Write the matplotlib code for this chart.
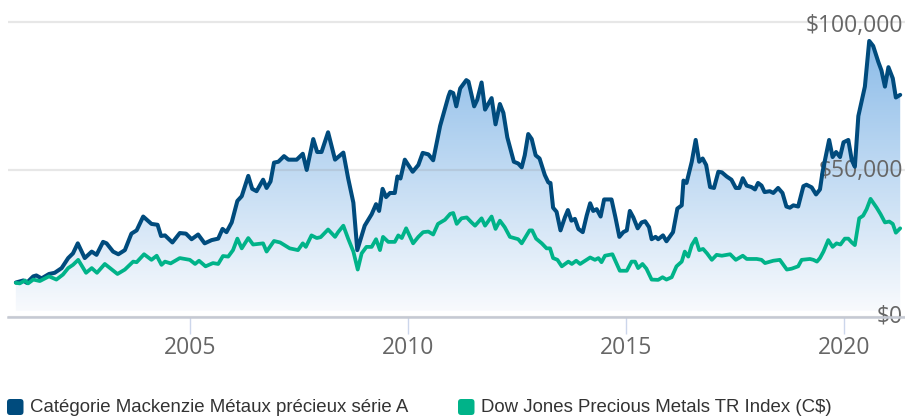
import numpy as np
import matplotlib
matplotlib.use("Agg")
import matplotlib.pyplot as plt
from matplotlib.colors import LinearSegmentedColormap
from matplotlib.patches import FancyBboxPatch
from matplotlib.transforms import offset_copy

# fund (Catégorie Mackenzie Métaux précieux série A), growth of $10k
fund_years = [2001.00, 2001.17, 2001.25, 2001.40, 2001.47, 2001.59, 2001.76, 2001.89, 2002.05, 2002.20,
              2002.31, 2002.42, 2002.58, 2002.74, 2002.85, 2003.00, 2003.08, 2003.23, 2003.35, 2003.50,
              2003.65, 2003.77, 2003.92, 2004.11, 2004.25, 2004.33, 2004.42, 2004.59, 2004.76, 2004.90,
              2005.03, 2005.18, 2005.33, 2005.49, 2005.64, 2005.74, 2005.83, 2005.95, 2006.08, 2006.18,
              2006.33, 2006.42, 2006.52, 2006.67, 2006.75, 2006.84, 2006.92, 2007.02, 2007.15, 2007.25,
              2007.44, 2007.58, 2007.67, 2007.82, 2007.91, 2008.01, 2008.16, 2008.32, 2008.51, 2008.62,
              2008.74, 2008.83, 2009.00, 2009.16, 2009.26, 2009.33, 2009.41, 2009.49, 2009.58, 2009.69,
              2009.75, 2009.82, 2009.92, 2010.10, 2010.23, 2010.33, 2010.46, 2010.57, 2010.73, 2010.92,
              2010.96, 2011.03, 2011.10, 2011.19, 2011.33, 2011.38, 2011.51, 2011.58, 2011.68, 2011.76,
              2011.91, 2012.00, 2012.10, 2012.18, 2012.27, 2012.42, 2012.52, 2012.60, 2012.67, 2012.75,
              2012.83, 2012.92, 2013.01, 2013.13, 2013.21, 2013.26, 2013.32, 2013.40, 2013.49, 2013.59,
              2013.66, 2013.74, 2013.82, 2013.90, 2014.00, 2014.09, 2014.17, 2014.24, 2014.32, 2014.41,
              2014.49, 2014.66, 2014.75, 2014.84, 2014.93, 2015.01, 2015.08, 2015.16, 2015.26, 2015.35,
              2015.43, 2015.52, 2015.58, 2015.67, 2015.73, 2015.84, 2015.92, 2016.07, 2016.17, 2016.27,
              2016.31, 2016.38, 2016.50, 2016.59, 2016.67, 2016.75, 2016.83, 2016.92, 2017.01, 2017.11,
              2017.19, 2017.30, 2017.41, 2017.51, 2017.59, 2017.67, 2017.76, 2017.87, 2017.95, 2018.02,
              2018.10, 2018.17, 2018.29, 2018.37, 2018.48, 2018.58, 2018.67, 2018.75, 2018.83, 2018.94,
              2019.06, 2019.13, 2019.25, 2019.35, 2019.44, 2019.50, 2019.65, 2019.73, 2019.81, 2019.90,
              2019.98, 2020.09, 2020.17, 2020.24, 2020.32, 2020.47, 2020.57, 2020.66, 2020.78, 2020.85,
              2020.93, 2021.01, 2021.11, 2021.18, 2021.28]
fund_values = [11700, 12400, 11600, 13800, 14100, 13100, 14600, 15000, 16600, 20000,
               21600, 25000, 20000, 22200, 21100, 25500, 25000, 22200, 21300, 22700,
               28300, 29400, 34100, 31600, 31300, 27500, 27700, 25300, 28500, 28300,
               26400, 28000, 25000, 26100, 26600, 29900, 28800, 32100, 39400, 41000,
               47900, 43500, 42700, 46600, 43800, 46000, 52400, 52700, 54600, 53400,
               53400, 55400, 49900, 60400, 56000, 56000, 62700, 53400, 55800, 47100,
               38800, 22700, 31000, 34900, 38300, 36000, 43500, 40700, 42100, 42100,
               47700, 47000, 53400, 49300, 51600, 55700, 55200, 53200, 64900, 74900,
               76500, 76000, 71500, 77600, 80400, 79900, 71500, 73700, 79600, 70400,
               74300, 65400, 72300, 69300, 61000, 52700, 52100, 50800, 54900, 62100,
               60400, 54900, 53800, 48200, 45700, 45500, 37100, 35700, 29400, 33800,
               36300, 32700, 33300, 29900, 28800, 34400, 38600, 36000, 36600, 34100,
               39900, 39900, 33800, 27200, 28800, 29400, 36000, 33800, 30100, 32100,
               32500, 30500, 26400, 27200, 26400, 27700, 25700, 28800, 36800, 37900,
               46300, 45500, 52700, 60100, 52700, 53800, 51600, 44100, 43800, 49300,
               49100, 47700, 46600, 43800, 43800, 47100, 44600, 44100, 43300, 45500,
               44600, 42400, 42700, 42100, 43800, 42100, 37500, 37100, 37900, 37500,
               44400, 44900, 44000, 41600, 43300, 49300, 60100, 54300, 56000, 54300,
               59300, 60100, 53200, 51000, 68200, 78200, 93700, 92000, 86500, 83700,
               78200, 84800, 81000, 74500, 75400]

# benchmark (Dow Jones Precious Metals TR Index, C$)
index_years = [2001.00, 2001.09, 2001.21, 2001.28, 2001.40, 2001.55, 2001.76, 2001.93, 2002.08, 2002.20,
               2002.31, 2002.43, 2002.61, 2002.74, 2002.86, 2003.04, 2003.16, 2003.33, 2003.50, 2003.69,
               2003.77, 2003.94, 2004.11, 2004.23, 2004.34, 2004.42, 2004.55, 2004.76, 2004.99, 2005.11,
               2005.20, 2005.35, 2005.52, 2005.64, 2005.75, 2005.87, 2005.98, 2006.08, 2006.18, 2006.33,
               2006.44, 2006.67, 2006.75, 2006.92, 2007.06, 2007.28, 2007.47, 2007.58, 2007.65, 2007.78,
               2007.90, 2007.99, 2008.16, 2008.32, 2008.39, 2008.51, 2008.62, 2008.74, 2008.84, 2008.93,
               2009.04, 2009.16, 2009.26, 2009.35, 2009.42, 2009.54, 2009.69, 2009.77, 2009.85, 2009.95,
               2010.11, 2010.23, 2010.34, 2010.46, 2010.57, 2010.68, 2010.84, 2010.96, 2011.03, 2011.11,
               2011.22, 2011.34, 2011.45, 2011.53, 2011.68, 2011.76, 2011.91, 2012.00, 2012.10, 2012.21,
               2012.33, 2012.52, 2012.60, 2012.78, 2012.84, 2012.93, 2013.06, 2013.17, 2013.25, 2013.32,
               2013.42, 2013.52, 2013.67, 2013.75, 2013.85, 2013.94, 2014.17, 2014.28, 2014.36, 2014.43,
               2014.51, 2014.68, 2014.78, 2014.85, 2015.01, 2015.12, 2015.20, 2015.27, 2015.37, 2015.46,
               2015.58, 2015.73, 2015.83, 2015.92, 2016.04, 2016.15, 2016.27, 2016.34, 2016.42, 2016.50,
               2016.59, 2016.67, 2016.76, 2016.85, 2016.96, 2017.07, 2017.19, 2017.38, 2017.51, 2017.67,
               2017.76, 2017.99, 2018.10, 2018.18, 2018.37, 2018.52, 2018.68, 2018.79, 2018.94, 2019.02,
               2019.21, 2019.29, 2019.37, 2019.44, 2019.52, 2019.63, 2019.73, 2019.82, 2019.91, 2020.01,
               2020.09, 2020.17, 2020.24, 2020.34, 2020.43, 2020.51, 2020.60, 2020.74, 2020.83, 2020.93,
               2021.03, 2021.11, 2021.18, 2021.28]
index_values = [11600, 11400, 12400, 11400, 12700, 12200, 13800, 12700, 14400, 16600,
                17700, 19400, 15000, 16600, 15000, 18000, 16600, 14600, 16100, 18800,
                18600, 21300, 19400, 20800, 17700, 18800, 18200, 20000, 19400, 18000,
                19100, 17200, 18300, 18000, 20700, 20500, 22700, 26600, 23300, 26800,
                24600, 25000, 22200, 25800, 25300, 23300, 22700, 25000, 23800, 27700,
                26800, 27100, 29700, 27200, 28800, 31000, 26600, 22200, 16100, 21600,
                23800, 23800, 26400, 22700, 27200, 25500, 25500, 27700, 26800, 30100,
                25000, 27200, 28800, 29000, 28000, 31600, 33000, 35000, 35300, 31600,
                33500, 33800, 32100, 31000, 33500, 31000, 34100, 29900, 32700, 30500,
                27200, 26400, 25000, 29400, 29400, 26600, 25000, 23300, 23300, 20000,
                19400, 17200, 18800, 18000, 19100, 18000, 20200, 19400, 20000, 18600,
                20800, 21300, 18000, 15700, 15700, 18800, 18800, 16600, 18000, 16400,
                12700, 12600, 13500, 12700, 13500, 17200, 18800, 22200, 20500, 24400,
                26600, 22700, 23100, 21600, 19400, 21100, 20800, 21300, 19400, 20800,
                19700, 19700, 19400, 18300, 19100, 19400, 16100, 16400, 17200, 19400,
                19700, 19400, 18800, 20000, 22200, 26100, 23800, 25000, 24600, 26600,
                26600, 25300, 24400, 33500, 34400, 36600, 40100, 37100, 34900, 32100,
                32400, 31600, 28600, 30100]

x_ticks = [2005, 2010, 2015, 2020]
y_ticks = [0, 50000, 100000]
y_tick_labels = ["$0", "$50,000", "$100,000"]
series_names = ["Catégorie Mackenzie Métaux précieux série A",
                "Dow Jones Precious Metals TR Index (C$)"]
series_colors = ["#004b7d", "#00b389"]

W, H = 905, 418
fig = plt.figure(figsize=(W / 100, H / 100), dpi=100)
ax = fig.add_axes([8 / W, (H - 317) / H, 897 / W, 312 / H])
ax.set_xlim(2000.82, 2021.39)
ax.set_ylim(2100, 105900)
ymin, ymax = ax.get_ylim()
xmin, xmax = ax.get_xlim()

# gradient area under the fund line
grad_cmap = LinearSegmentedColormap.from_list("area", ["#f8fafd", "#7eb4e6"])
area = ax.fill_between(fund_years, fund_values, ymin, facecolor="none", edgecolor="none")
grad = np.linspace(0, 1, 256).reshape(-1, 1)
img = ax.imshow(grad, extent=[xmin, xmax, ymin, ymax], origin="lower", aspect="auto",
                cmap=grad_cmap, zorder=1)
img.set_clip_path(area.get_paths()[0], transform=ax.transData)

ax.plot(fund_years, fund_values, color=series_colors[0], lw=2.9,
        solid_joinstyle="round", solid_capstyle="round", zorder=4)
ax.plot(index_years, index_values, color=series_colors[1], lw=2.7,
        solid_joinstyle="round", solid_capstyle="round", zorder=5)

# grid + axes
ax.set_yticks(y_ticks)
ax.set_axisbelow(False)
ax.yaxis.grid(True, color="#8a8a8a", alpha=0.2, lw=1.6)
ax.tick_params(axis="y", left=False, labelleft=False)
for s in ["left", "right", "top"]:
    ax.spines[s].set_visible(False)
ax.spines["bottom"].set_color("#c5c9d3")
ax.spines["bottom"].set_linewidth(1.8)
ax.spines["bottom"].set_zorder(6)

ax.set_xticks(x_ticks)
ax.set_xticklabels([str(t) for t in x_ticks])
ax.tick_params(axis="x", direction="out", length=12, width=1, color="#ccd6eb",
               labelsize=16.5, labelcolor="#666666", pad=1.5)
for lab in ax.get_xticklabels():
    lab.set_fontfamily("Open Sans")

# y labels inside the plot on the right (offsets in px, + is up)
y_offsets = [0, -1.5, -3.5]
for val, txt, off in zip(y_ticks, y_tick_labels, y_offsets):
    tr = offset_copy(ax.get_yaxis_transform(), fig=fig, x=0, y=off * 0.72, units="points")
    ax.text(0.9978, val, txt, transform=tr, ha="right", va="center", fontsize=16.5,
            color="#666666", family="Open Sans", zorder=3, clip_on=False)

# legend
legend_x = [7, 458]
for lx, name, col in zip(legend_x, series_names, series_colors):
    box = FancyBboxPatch((lx / W, 1 - 415 / H), 16.5 / W, 16 / H,
                         boxstyle="round,pad=0,rounding_size=0.0035",
                         mutation_aspect=W / H, transform=fig.transFigure,
                         facecolor=col, edgecolor="none")
    fig.add_artist(box)
    fig.text((lx + 23) / W, 1 - 407.5 / H, name, fontsize=13.45, family="Liberation Sans",
             color="#333333", va="center", ha="left")

fig.savefig("out.png", dpi=100)
